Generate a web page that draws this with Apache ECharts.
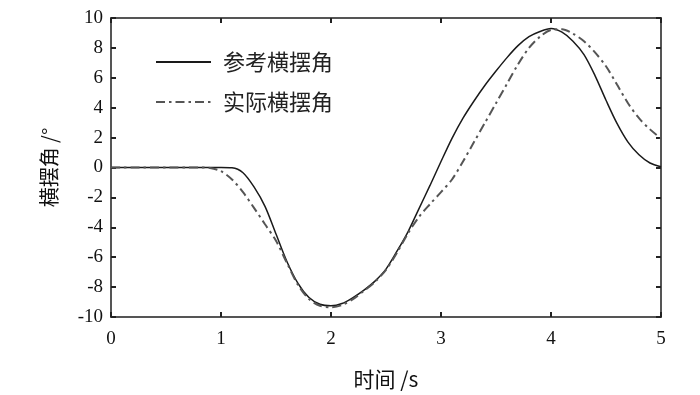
<!DOCTYPE html>
<html>
<head>
<meta charset="utf-8">
<script src="https://cdn.jsdelivr.net/npm/echarts@6/dist/echarts.min.js"></script>
<style>
html,body{margin:0;padding:0;background:#fff;}
#c{width:700px;height:395px;}
</style>
</head>
<body>
<div id="c"></div>
<script>
var times = [0.0,0.1,0.2,0.3,0.4,0.5,0.6,0.7,0.8,0.9,
             1.0,1.1,1.2,1.3,1.4,1.5,1.6,1.7,1.8,1.9,
             2.0,2.1,2.2,2.3,2.4,2.5,2.6,2.7,2.8,2.9,
             3.0,3.1,3.2,3.3,3.4,3.5,3.6,3.7,3.8,3.9,
             4.0,4.1,4.2,4.3,4.4,4.5,4.6,4.7,4.8,4.9,5.0];
var referenceAngle = [0,0,0,0,0,0,0,0,0,0,
                      0,-0.02,-0.35,-1.3,-2.6,-4.45,-6.3,-7.75,-8.7,-9.15,
                      -9.25,-9.1,-8.7,-8.2,-7.6,-6.8,-5.6,-4.3,-2.75,-1.2,
                      0.4,1.95,3.3,4.45,5.5,6.45,7.35,8.15,8.75,9.1,
                      9.3,9.05,8.45,7.55,6.15,4.5,2.95,1.7,0.85,0.3,0.05];
var actualAngle = [0,0,0,0,0,0,0,0,0,-0.03,
                   -0.25,-0.8,-1.65,-2.7,-3.8,-4.9,-6.4,-7.85,-8.8,-9.25,
                   -9.35,-9.2,-8.8,-8.25,-7.65,-6.85,-5.7,-4.4,-3.3,-2.45,
                   -1.65,-0.8,0.4,1.7,3.0,4.3,5.6,6.9,8.0,8.75,
                   9.2,9.25,8.95,8.45,7.7,6.77,5.55,4.3,3.3,2.55,1.95];
var seriesNames = ['参考横摆角', '实际横摆角'];
var xTicks = [0,1,2,3,4,5];
var yTicks = [-10,-8,-6,-4,-2,0,2,4,6,8,10];

function pairs(xs, ys){ return xs.map(function(x,i){ return [x, ys[i]]; }); }

var chart = echarts.init(document.getElementById('c'), null, {renderer:'canvas'});
var axisColor = '#555';
var labelFont = {fontFamily:'Liberation Serif', fontSize:19, color:'#111'};
chart.setOption({
  animation:false,
  backgroundColor:'#fff',
  grid:{left:111, right:39, top:18, bottom:77, containLabel:false},
  legend:{
    orient:'vertical', left:150, top:46,
    itemWidth:55, itemHeight:20, itemGap:18,
    itemStyle:{opacity:0},
    textStyle:{fontFamily:'Noto Sans CJK SC', fontSize:22, color:'#222', padding:[0,0,0,7]},
    data:[{name:seriesNames[0]},{name:seriesNames[1]}]
  },
  xAxis:[{
    type:'value', min:xTicks[0], max:xTicks[xTicks.length-1], interval:1,
    name:'时间 /s', nameLocation:'middle', nameGap:52,
    nameTextStyle:{fontFamily:'Noto Sans CJK SC', fontSize:21, color:'#111'},
    axisLine:{show:true, onZero:false, lineStyle:{color:axisColor, width:2}},
    axisTick:{show:true, inside:true, length:5, lineStyle:{color:'#222', width:2}},
    axisLabel:Object.assign({margin:13}, labelFont),
    splitLine:{show:false}
  },{
    type:'value', position:'top', min:xTicks[0], max:xTicks[xTicks.length-1], interval:1,
    axisLine:{show:true, onZero:false, lineStyle:{color:axisColor, width:2}},
    axisTick:{show:true, inside:true, length:5, lineStyle:{color:'#222', width:2}},
    axisLabel:{show:false}, splitLine:{show:false}
  }],
  yAxis:[{
    type:'value', min:yTicks[0], max:yTicks[yTicks.length-1], interval:2,
    name:'横摆角 /°', nameLocation:'middle', nameGap:52, nameRotate:90,
    nameTextStyle:{fontFamily:'Noto Sans CJK SC', fontSize:20, color:'#111'},
    axisLine:{show:true, onZero:false, lineStyle:{color:axisColor, width:2}},
    axisTick:{show:true, inside:true, length:5, lineStyle:{color:'#222', width:2}},
    axisLabel:Object.assign({margin:8}, labelFont),
    splitLine:{show:false}
  },{
    type:'value', position:'right', min:yTicks[0], max:yTicks[yTicks.length-1], interval:2,
    axisLine:{show:true, onZero:false, lineStyle:{color:axisColor, width:2}},
    axisTick:{show:true, inside:true, length:5, lineStyle:{color:'#222', width:2}},
    axisLabel:{show:false}, splitLine:{show:false}
  }],
  series:[{
    name:seriesNames[0], type:'line', smooth:0.3, symbol:'none',
    data:pairs(times, referenceAngle),
    lineStyle:{color:'#1a1a1a', width:1.5, type:'solid'},
    itemStyle:{color:'#1a1a1a'}
  },{
    name:seriesNames[1], type:'line', smooth:0.3, symbol:'none',
    data:pairs(times, actualAngle),
    lineStyle:{color:'#555', width:2, type:[9,4,2.5,4]},
    itemStyle:{color:'#555'}
  }]
});
</script>
</body>
</html>
